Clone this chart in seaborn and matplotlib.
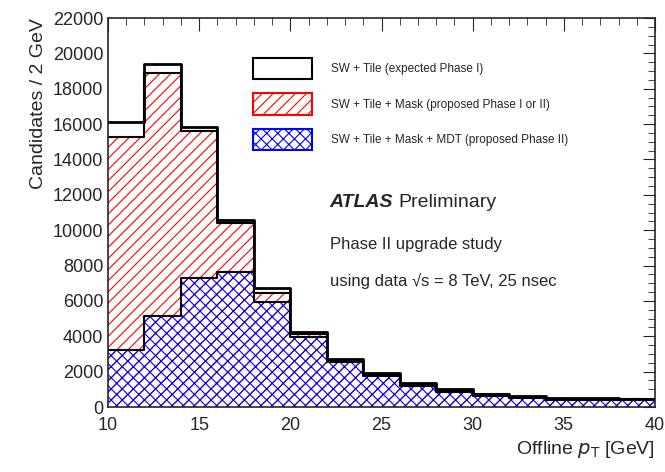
import matplotlib
matplotlib.use("Agg")
import matplotlib.pyplot as plt
import seaborn as sns
import numpy as np
from matplotlib.patches import Patch
from matplotlib.ticker import MultipleLocator

edges = list(range(10, 42, 2))
total = [16100, 19380, 15820, 10600, 6740, 4240, 2700, 1920, 1350, 1020, 740, 620, 500, 500, 450]
mask = [15270, 18900, 15610, 10390, 6440, 4150, 2650, 1870, 1300, 980, 710, 590, 480, 480, 430]
mdt = [3220, 5140, 7280, 7640, 5930, 3970, 2560, 1750, 1190, 870, 620, 530, 420, 420, 400]

sns.set_style("white")
plt.rcParams['font.family'] = ['Liberation Sans', 'DejaVu Sans']
plt.rcParams['hatch.linewidth'] = 0.8

fig = plt.figure(figsize=(6.65, 4.72), dpi=100)
ax = fig.add_axes([108/665, 65/472, (655-108)/665, (407-18)/472])
centers = [(edges[i] + edges[i+1]) / 2 for i in range(len(total))]

sns.histplot(x=centers, weights=total, bins=edges, element="step", fill=False,
             color="black", linewidth=2, ax=ax)
sns.histplot(x=centers, weights=mask, bins=edges, element="step", fill=True,
             color="red", linewidth=0, alpha=1, ax=ax)
c = ax.collections[-1]
c.set_facecolor('white'); c.set_hatch('///'); c.set_edgecolor('red')
sns.histplot(x=centers, weights=mask, bins=edges, element="step", fill=False,
             color="black", linewidth=1.5, ax=ax)
sns.histplot(x=centers, weights=mdt, bins=edges, element="step", fill=True,
             color="blue", linewidth=0, alpha=1, ax=ax)
c = ax.collections[-1]
c.set_facecolor('none'); c.set_hatch('xxx'); c.set_edgecolor('blue')
sns.histplot(x=centers, weights=mdt, bins=edges, element="step", fill=False,
             color="black", linewidth=1.5, ax=ax)

ax.set_xlim(10, 40)
ax.set_ylim(0, 22000)
ax.xaxis.set_major_locator(MultipleLocator(5))
ax.xaxis.set_minor_locator(MultipleLocator(1))
ax.yaxis.set_major_locator(MultipleLocator(2000))
ax.yaxis.set_minor_locator(MultipleLocator(500))
ax.tick_params(which='both', direction='in', top=True, right=True, labelsize=13)
ax.tick_params(axis='x', pad=7)
ax.tick_params(which='major', length=9)
ax.tick_params(which='minor', length=5)
for s in ax.spines.values():
    s.set_linewidth(1.2)
ax.set_xlabel("Offline $p_{\\mathrm{T}}$ [GeV]", fontsize=14, loc='right')
ax.set_ylabel("Candidates / 2 GeV", fontsize=14, loc='top')

handles = [Patch(facecolor='white', edgecolor='black', linewidth=1.5),
           Patch(facecolor='white', edgecolor='black', hatch='///', linewidth=1.5),
           Patch(facecolor='white', edgecolor='black', hatch='xxx', linewidth=1.5)]
leg = ax.legend(handles, ["SW + Tile (expected Phase I)",
                          "SW + Tile + Mask (proposed Phase I or II)",
                          "SW + Tile + Mask + MDT (proposed Phase II)"],
                loc='upper left', bbox_to_anchor=(0.245, 0.925), frameon=False,
                fontsize=8.5, handlelength=5.0, handleheight=2.4, labelspacing=1.2,
                handletextpad=1.6)
for h, col in zip(leg.legend_handles[1:], ['red', 'blue']):
    h.set_edgecolor(col)

ax.text(0.405, 0.515, "ATLAS", transform=ax.transAxes, fontsize=14,
        fontweight='bold', fontstyle='italic')
ax.text(0.53, 0.515, "Preliminary", transform=ax.transAxes, fontsize=14)
ax.text(0.405, 0.405, "Phase II upgrade study", transform=ax.transAxes, fontsize=12)
ax.text(0.405, 0.31, "using data \u221as = 8 TeV, 25 nsec", transform=ax.transAxes, fontsize=12)

fig.savefig("out.png", dpi=100)
